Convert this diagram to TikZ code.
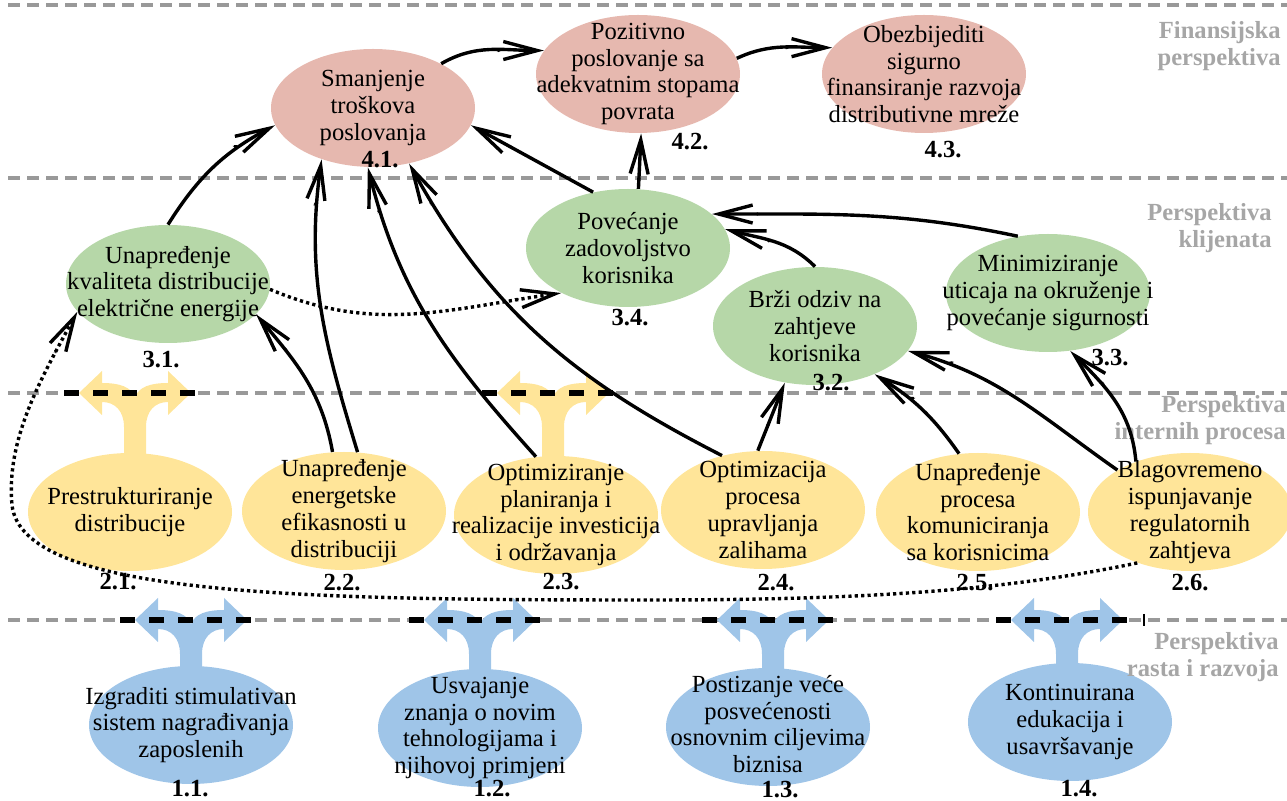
\documentclass[tikz,border=0pt]{standalone}
\usepackage{fontspec}
\setmainfont{Liberation Serif}
\usepackage{xcolor}
\usepackage{tikz}
\usetikzlibrary{shapes,calc,backgrounds}
\usetikzlibrary{arrows.meta}

\definecolor{finc}{RGB}{230,184,175}
\definecolor{klic}{RGB}{182,215,168}
\definecolor{proc}{RGB}{255,229,153}
\definecolor{rasc}{RGB}{159,197,232}
\definecolor{lanec}{RGB}{153,153,153}
\definecolor{lanetxt}{RGB}{166,166,166}

\tikzset{
  goal/.style={ellipse, minimum width=102pt, minimum height=59pt, inner sep=0pt},
  gtext/.style={align=center, inner sep=0pt, font=\fontsize{12.3}{13.4}\selectfont},
  gnum/.style={inner sep=0pt, font=\fontsize{12.3}{13.4}\selectfont\bfseries},
  lane/.style={draw=lanec, line width=2pt, dash pattern=on 6pt off 3.5pt},
  lanename/.style={anchor=east, align=right, inner sep=0pt, text=lanetxt,
    font=\fontsize{12.3}{13.6}\selectfont\bfseries},
  link/.style={line width=1.7pt,
    -{Straight Barb[length=0.1pt,width=0.1pt]Straight Barb[length=17pt,width=9pt]}},
  dotlink/.style={link, dash pattern=on 1.6pt off 1.6pt},
  cut/.style={line width=3.2pt, dash pattern=on 7.5pt off 7pt}
}

% fork arrow above an ellipse: node, lane line, x offset, colour
\newcommand{\forkarrow}[4]{%
  \begin{scope}[shift={($(#1.center |- #2)+(#3,0)$)}]
    \fill [#4] (-11,-75) -- (-11,-34) .. controls (-11,-18) and (-20,-9) .. (-33,-9)
      -- (-33,-22) -- (-56,0) -- (-33,22) -- (-33,10)
      .. controls (-15,10) and (-4,6) .. (0,-4)
      .. controls (4,6) and (15,10) .. (33,10)
      -- (33,22) -- (56,0) -- (33,-22) -- (33,-9)
      .. controls (20,-9) and (11,-18) .. (11,-34) -- (11,-75) -- cycle;
    \draw [cut] (-71,0) -- (61,0);
  \end{scope}}

\begin{document}
\begin{tikzpicture}[x=0.5pt,y=0.5pt]
      \useasboundingbox (0,0) rectangle (1287,-801);
      \coordinate (procline) at (0,-393);
      \coordinate (rastline) at (0,-620);

      % financijska perspektiva
      \node (e41) at (373,-108) [goal, fill=finc] {};
      \node (e42) at (638,-74) [goal, fill=finc] {};
      \node (e43) at (924,-74) [goal, fill=finc] {};
      \node (t41) at (e41) [gtext] {Smanjenje\\troškova\\poslovanja};
      \node (t42) at (e42) [gtext] {Pozitivno\\poslovanje sa\\adekvatnim stopama\\povrata};
      \node (t43) at (e43) [gtext] {Obezbijediti\\sigurno\\finansiranje razvoja\\distributivne mreže};
      \node (n41) at (380,-160) [gnum] {4.1.};
      \node (n42) at (690,-142) [gnum] {4.2.};
      \node (n43) at (943,-150) [gnum] {4.3.};

      % klijenti
      \node (e31) at (168,-284) [goal, fill=klic] {};
      \node (e34) at (628,-248) [goal, fill=klic] {};
      \node (e32) at (815,-326) [goal, fill=klic] {};
      \node (e33) at (1048,-293) [goal, fill=klic] {};
      \node (t31) at (e31) [gtext] {Unapređenje\\kvaliteta distribucije\\električne energije};
      \node (t34) at (e34) [gtext] {Povećanje\\zadovoljstvo\\korisnika};
      \node (t32) at (e32) [gtext] {Brži odziv na\\zahtjeve\\korisnika};
      \node (t33) at (e33) [gtext] {Minimiziranje\\uticaja na okruženje i\\povećanje sigurnosti};
      \node (n31) at (161,-360) [gnum] {3.1.};
      \node (n34) at (630,-318) [gnum] {3.4.};
      \node (n32) at (831,-383) [gnum] {3.2.};
      \node (n33) at (1110,-358) [gnum] {3.3.};

      % interni procesi
      \node (e21) at (130,-512) [goal, fill=proc] {};
      \node (e22) at (344,-511) [goal, fill=proc] {};
      \node (e23) at (556,-515) [goal, fill=proc] {};
      \node (e24) at (763,-510) [goal, fill=proc] {};
      \node (e25) at (978,-512) [goal, fill=proc] {};
      \node (e26) at (1190,-512) [goal, fill=proc] {};
      \node (t21) at (e21) [gtext] {Prestrukturiranje\\distribucije};
      \node (t22) at (e22) [gtext] {Unapređenje\\energetske\\efikasnosti u\\distribuciji};
      \node (t23) at (e23) [gtext] {Optimiziranje\\planiranja i\\realizacije investicija\\i održavanja};
      \node (t24) at (e24) [gtext] {Optimizacija\\procesa\\upravljanja\\zalihama};
      \node (t25) at (e25) [gtext] {Unapređenje\\procesa\\komuniciranja\\sa korisnicima};
      \node (t26) at (e26) [gtext] {Blagovremeno\\ispunjavanje\\regulatornih\\zahtjeva};
      \node (n21) at (118,-582) [gnum] {2.1.};
      \node (n22) at (342,-583) [gnum] {2.2.};
      \node (n23) at (561,-582) [gnum] {2.3.};
      \node (n24) at (776,-583) [gnum] {2.4.};
      \node (n25) at (975,-583) [gnum] {2.5.};
      \node (n26) at (1190,-583) [gnum] {2.6.};

      % rast i razvoj
      \node (e11) at (191,-725) [goal, fill=rasc] {};
      \node (e12) at (480,-728) [goal, fill=rasc] {};
      \node (e13) at (768,-727) [goal, fill=rasc] {};
      \node (e14) at (1070,-722) [goal, fill=rasc] {};
      \node (t11) at (e11) [gtext] {Izgraditi stimulativan\\sistem nagrađivanja\\zaposlenih};
      \node (t12) at (e12) [gtext] {Usvajanje\\znanja o novim\\tehnologijama i\\njihovoj primjeni};
      \node (t13) at (e13) [gtext, yshift=1.5pt] {Postizanje veće\\posvećenosti\\osnovnim ciljevima\\biznisa};
      \node (t14) at (e14) [gtext] {Kontinuirana\\edukacija i\\usavršavanje};
      \node (n11) at (190,-789) [gnum] {1.1.};
      \node (n12) at (492,-789) [gnum] {1.2.};
      \node (n13) at (780,-790) [gnum] {1.3.};
      \node (n14) at (1079,-789) [gnum] {1.4.};

      % perspektive
      \node (fin) at (1281,-46) [lanename] {Finansijska\\perspektiva};
      \node (kli) at (1272,-228) [lanename] {Perspektiva\\klijenata};
      \node (pro) at (1286,-420) [lanename] {Perspektiva\\internih procesa};
      \node (ras) at (1279,-657) [lanename] {Perspektiva\\rasta i razvoja};

      \begin{scope}[on background layer]
        \draw [lane] (8,-5) -- (1287,-5);
        \draw [lane] (8,-178) -- (1287,-178);
        \draw [lane] (8,-393) -- (1287,-393);
        \draw [lane] (8,-620) -- (1287,-620);
        \forkarrow{e21}{procline}{5}{proc}
        \forkarrow{e23}{procline}{-3}{proc}
        \forkarrow{e11}{rastline}{0}{rasc}
        \forkarrow{e12}{rastline}{0}{rasc}
        \forkarrow{e13}{rastline}{5}{rasc}
        \forkarrow{e14}{rastline}{-3}{rasc}
        \draw [line width=1pt] (1144,-614) -- (1144,-626);
      \end{scope}

      % veze
      \draw [link] (e31.90) to[bend left=15] (e41.190);
      \draw [link] (e34.122) -- (e41.-10);
      \draw [link] (e22.77) to[out=107,in=-98] (e41.225);
      \draw [link] (e22.101) to[out=100,in=-50] (e31.-19);
      \draw [link] (e23.109) to[out=132,in=-76] (e41.265);
      \draw [link] (e24.127) to[out=153,in=-61] (e41.-57);
      \draw [link] (e24.95) -- (e32.242);
      \draw [link] (e25.108) to[out=125,in=-32] (e32.-39);
      \draw [link] (e26.150) to[out=145,in=-15] (e32.-15);
      \draw [link] (e26.137) to[out=95,in=-45] (e33.-69);
      \draw [link] (e33.118) to[out=168,in=0] (e34.22);
      \draw [link] (e32.90) to[out=135,in=-15] (e34.11);
      \draw [link] (e34.80) -- (e42.-87);
      \draw [link] (e41.33) to[out=30,in=180] (e42.166);
      \draw [link] (e42.9) to[out=25,in=180] (e43.164);
      \draw [dotlink] (e31.-3) to[out=-23,in=188] (e34.214);
      \draw [dotlink] (e26.224) .. controls (1000,-592) and (850,-600) .. (650,-600)
        .. controls (300,-600) and (22,-596) .. (12,-505)
        .. controls (6,-440) and (40,-380) .. (e31.197);
\end{tikzpicture}
\end{document}
